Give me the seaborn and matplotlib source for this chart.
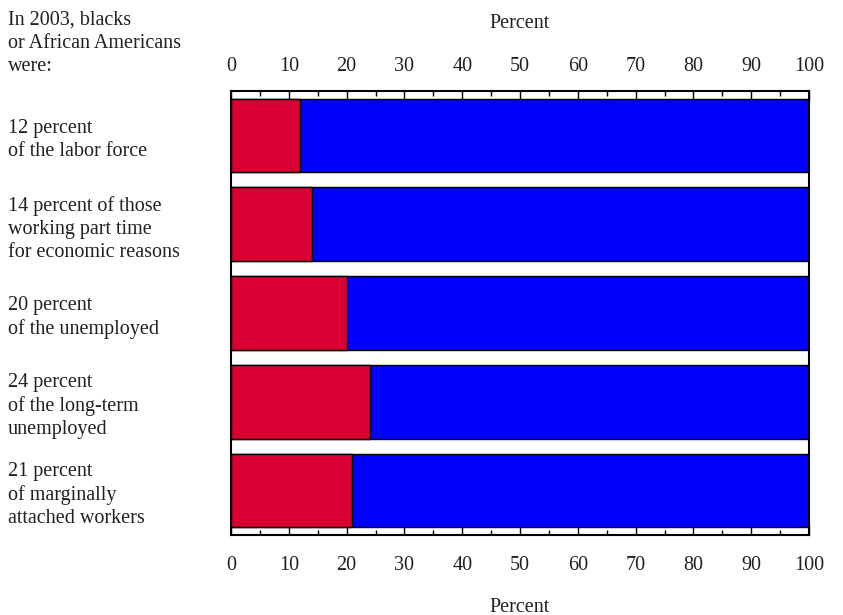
import matplotlib
matplotlib.use("Agg")
import matplotlib.pyplot as plt
from matplotlib.ticker import MultipleLocator
import seaborn as sns
import pandas as pd

categories = [
    "12 percent\nof the labor force",
    "14 percent of those\nworking part time\nfor economic reasons",
    "20 percent\nof the unemployed",
    "24 percent\nof the long-term\nunemployed",
    "21 percent\nof marginally\nattached workers",
]
black_share = [12, 14, 20, 24, 21]
total = [100, 100, 100, 100, 100]
x_ticks = [0, 10, 20, 30, 40, 50, 60, 70, 80, 90, 100]

df = pd.DataFrame({"category": categories, "black": black_share, "total": total})

sns.set_style("white")
plt.rcParams["font.family"] = ["Liberation Serif", "DejaVu Serif"]
txt_color = "#231f20"

fig = plt.figure(figsize=(8.43, 6.15), dpi=100)
ax = fig.add_axes([231 / 843, 1 - 535 / 615, (809 - 231) / 843, (535 - 91) / 615])

sns.barplot(data=df, y="category", x="total", orient="h", color="#0000FF",
            saturation=1, edgecolor="black", linewidth=1, width=0.83, ax=ax)
sns.barplot(data=df, y="category", x="black", orient="h", color="#D80032",
            saturation=1, edgecolor="black", linewidth=1, width=0.83, ax=ax)

ax.set_xlim(0, 100)
ax.set_ylim(4.5, -0.5)
ax.set_xticks(x_ticks)
ax.xaxis.set_minor_locator(MultipleLocator(5))
ax.set_xlabel("")
ax.set_ylabel("")

fs = 14.5
ax.tick_params(axis="x", which="major", direction="in", length=7.5, width=1,
               top=True, bottom=True, labeltop=False, labelbottom=True,
               labelsize=fs, pad=15, color="black", labelcolor=txt_color)
ax.tick_params(axis="x", which="minor", direction="in", length=3.5, width=1,
               top=True, bottom=True, color="black")
ax.tick_params(axis="y", length=0, labelsize=fs, pad=160.5, labelcolor=txt_color)
for lab in ax.get_yticklabels():
    lab.set_horizontalalignment("left")
    lab.set_linespacing(1.28)

# top tick labels on a secondary axis (own padding)
sec = ax.secondary_xaxis("top")
sec.set_xticks(x_ticks)
sec.tick_params(axis="x", which="both", length=0, pad=10.5, labelsize=fs,
                labelcolor=txt_color)
sec.xaxis.set_minor_locator(MultipleLocator(5))
sec.spines["top"].set_visible(False)

for s in ax.spines.values():
    s.set_visible(True)
    s.set_color("black")
    s.set_linewidth(1.5)

fig.text(8 / 843, 1 - 11 / 615, "In 2003, blacks\nor African Americans\nwere:",
         ha="left", va="top", fontsize=fs, linespacing=1.3, color=txt_color)
fig.text(520 / 843, 1 - 24 / 615, "Percent", ha="center", va="center",
         fontsize=fs, color=txt_color)
fig.text(520 / 843, 1 - 607 / 615, "Percent", ha="center", va="center",
         fontsize=fs, color=txt_color)

fig.savefig("out.png", dpi=100)
